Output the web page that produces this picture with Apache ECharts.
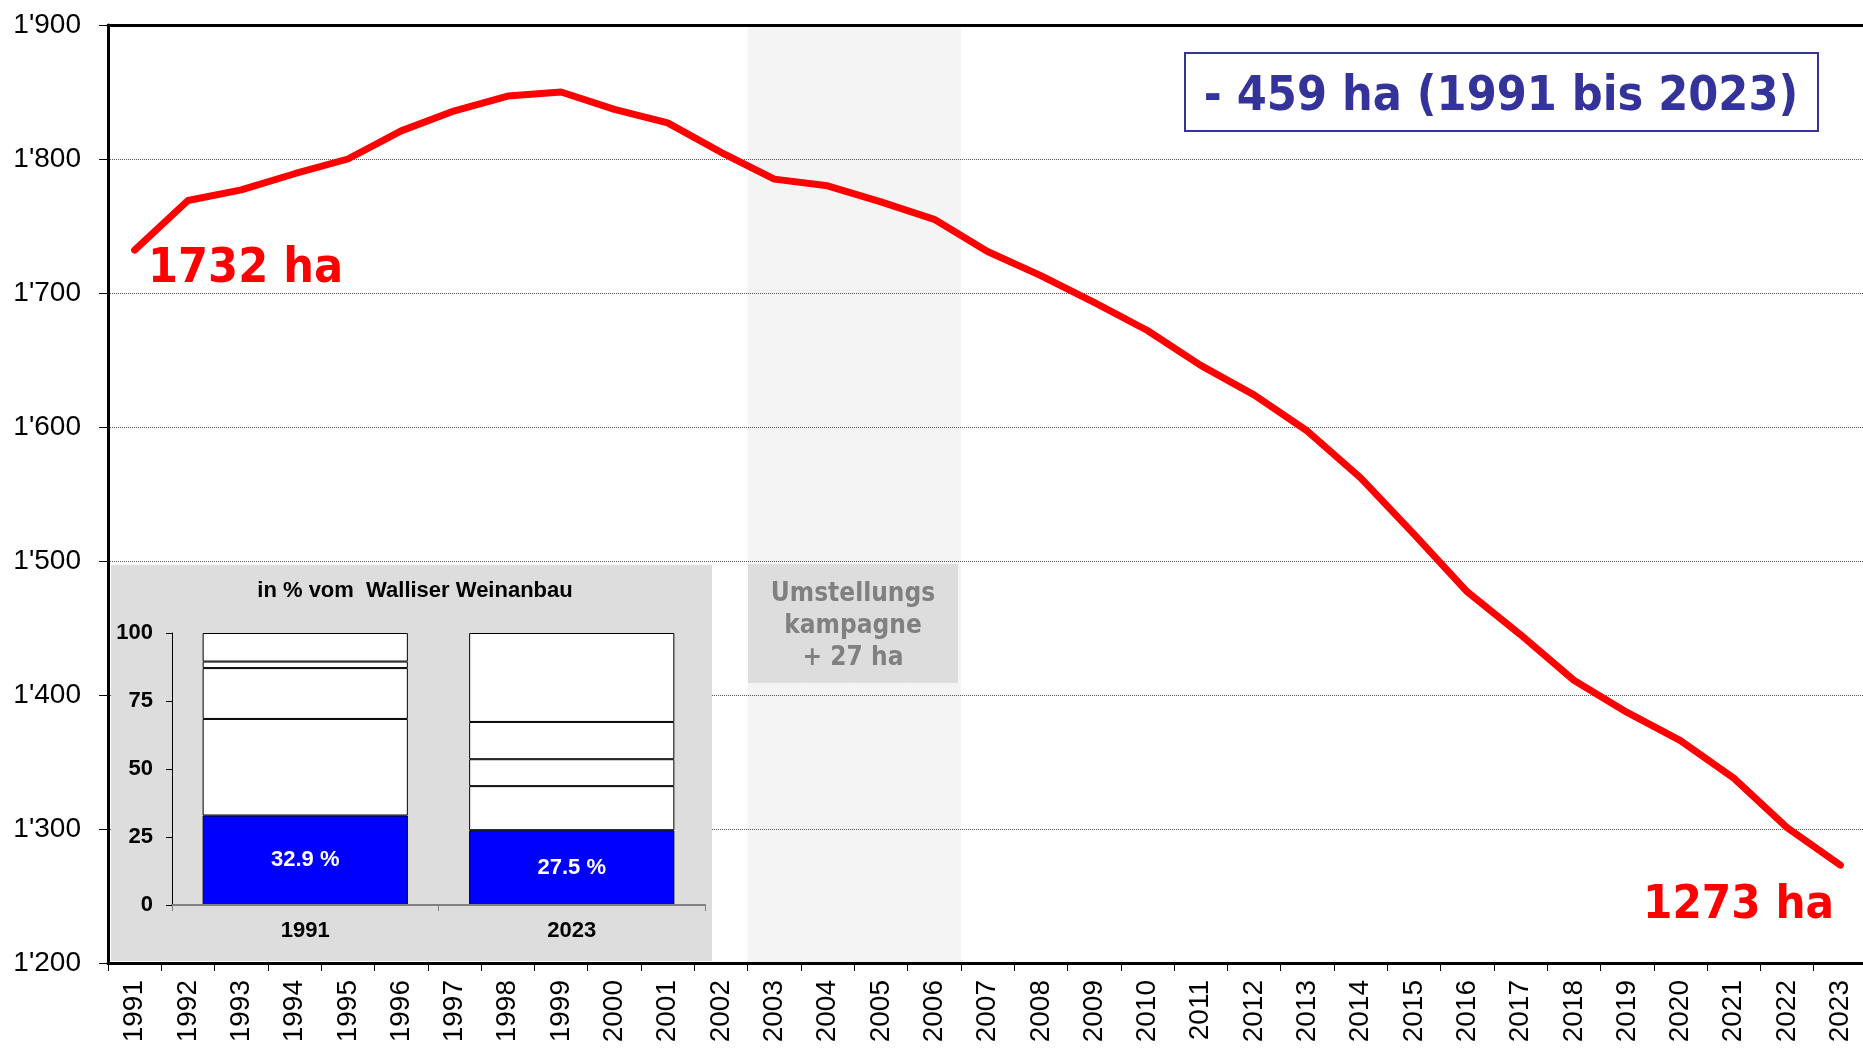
<!DOCTYPE html>
<html>
<head>
<meta charset="utf-8">
<script src="https://cdn.jsdelivr.net/npm/echarts@6/dist/echarts.min.js"></script>
<style>
	html, body { margin: 0; padding: 0; width: 100%; height: 100%; background: #fff; }
	#chartLineBox { width: 1863px; height: 1048px; }
</style>
</head>
<body>
<div id="chartLineBox"></div>
<script>
	// Rebfläche in ha
	var years = ['1991', '1992', '1993', '1994', '1995', '1996', '1997', '1998', '1999', '2000', '2001',
		'2002', '2003', '2004', '2005', '2006', '2007', '2008', '2009', '2010', '2011', '2012',
		'2013', '2014', '2015', '2016', '2017', '2018', '2019', '2020', '2021', '2022', '2023'];
	var areaHa = [1732, 1769, 1777, 1789, 1800, 1821, 1836, 1847, 1850, 1837, 1827,
		1805, 1785, 1780, 1768, 1755, 1731, 1713, 1693, 1672, 1646, 1624,
		1597, 1562, 1520, 1477, 1445, 1411, 1387, 1366, 1338, 1301, 1273];
	var campaignYears = ['2003', '2004', '2005', '2006'];
	var campaignGain = 27;

	// Kleines Diagramm: Anteil in % vom Walliser Weinanbau
	var insetYears = ['1991', '2023'];
	var insetShare = [32.9, 27.5];
	var insetSeg2 = [35.5, 16.2];
	var insetSeg3 = [18.7, 9.9];
	var insetSeg4 = [2.4, 13.7];
	var insetSeg5 = [10.5, 32.7];

	var arial = '"Liberation Sans", Arial, sans-serif';
	var tahoma = '"DejaVu Sans Condensed", "DejaVu Sans", sans-serif';
	var last = areaHa.length - 1;
	var yMin = 1200, yMax = 1900;

	// Band der Umstellungskampagne: volle Höhe in den Kampagnenjahren
	var campaignBand = years.map(function (y) {
		return campaignYears.indexOf(y) >= 0 ? yMax : '-';
	});

	function insetBar(name, data, color, withLabel) {
		return {
			name: name,
			type: 'bar',
			stack: 'anteil',
			xAxisIndex: 2,
			yAxisIndex: 1,
			data: data,
			z: 4,
			barCategoryGap: '23%',
			itemStyle: { color: color, borderColor: '#000', borderWidth: 1 },
			label: {
				show: withLabel,
				position: 'inside',
				color: '#fff',
				fontFamily: arial,
				fontWeight: 'bold',
				fontSize: 22,
				formatter: function (p) { return p.value + ' %'; }
			}
		};
	}

	var chart = echarts.init(document.getElementById('chartLineBox'));
	var option = {
		animation: false,
		grid: [
			{ left: 108, top: 25, width: 1759, height: 938, outerBoundsMode: 'none' },
			{ left: 172, top: 633, width: 533, height: 272, outerBoundsMode: 'none' }
		],
		xAxis: [
			{
				gridIndex: 0, type: 'category', data: years, boundaryGap: true,
				axisLine: { lineStyle: { color: '#000', width: 3 } },
				axisTick: { show: true, interval: 0, length: 8, lineStyle: { color: '#000', width: 1 } },
				axisLabel: { interval: 0, rotate: 90, margin: 17, fontSize: 28, color: '#000', fontFamily: arial },
				splitLine: { show: false }
			},
			{
				// obere Rahmenlinie
				gridIndex: 0, type: 'category', data: years, position: 'top',
				axisLine: { lineStyle: { color: '#000', width: 3 } },
				axisTick: { show: false }, axisLabel: { show: false }, splitLine: { show: false }
			},
			{
				gridIndex: 1, type: 'category', data: insetYears, z: 5,
				axisLine: { lineStyle: { color: '#808080', width: 2 } },
				axisTick: { show: true, length: 6, lineStyle: { color: '#808080', width: 1 } },
				axisLabel: { margin: 15, fontSize: 22, fontWeight: 'bold', color: '#000', fontFamily: arial },
				splitLine: { show: false }
			}
		],
		yAxis: [
			{
				gridIndex: 0, type: 'value', min: yMin, max: yMax, interval: 100,
				axisLine: { show: true, lineStyle: { color: '#000', width: 3 } },
				axisTick: { show: true, length: 9, lineStyle: { color: '#000', width: 1 } },
				axisLabel: {
					margin: 27, fontSize: 28, color: '#000', fontFamily: arial,
					formatter: function (v) { return Math.floor(v / 1000) + "'" + String(v % 1000).padStart(3, '0'); }
				},
				splitLine: { show: true, lineStyle: { type: 'dotted', color: '#555', width: 1 } }
			},
			{
				gridIndex: 1, type: 'value', min: 0, max: 100, interval: 25, z: 5,
				axisLine: { show: true, lineStyle: { color: '#000', width: 1 } },
				axisTick: { show: true, length: 6, lineStyle: { color: '#000', width: 1 } },
				axisLabel: { margin: 19, fontSize: 22, fontWeight: 'bold', color: '#000', fontFamily: arial },
				splitLine: { show: false }
			}
		],
		series: [
			{
				name: 'Umstellungskampagne',
				type: 'bar',
				xAxisIndex: 0,
				yAxisIndex: 0,
				data: campaignBand,
				barWidth: '100%',
				silent: true,
				z: 1,
				itemStyle: { color: 'rgba(0,0,0,0.045)' }
			},
			{
				name: 'Rebfläche',
				type: 'line',
				xAxisIndex: 0,
				yAxisIndex: 0,
				data: areaHa,
				symbol: 'none',
				z: 3,
				lineStyle: { color: '#ff0000', width: 7, cap: 'round', join: 'round' }
			},
			insetBar('Anteil', insetShare, '#0000ff', true),
			insetBar('Segment 2', insetSeg2, '#ffffff', false),
			insetBar('Segment 3', insetSeg3, '#ffffff', false),
			insetBar('Segment 4', insetSeg4, '#ffffff', false),
			insetBar('Segment 5', insetSeg5, '#ffffff', false)
		],
		graphic: [
			// Hintergrund kleines Diagramm
			{ type: 'rect', z: 2, shape: { x: 111, y: 565, width: 601, height: 396 }, style: { fill: '#dddddd' } },
			{ type: 'text', z: 6, x: 415, y: 591, style: { text: 'in % vom  Walliser Weinanbau', font: 'bold 22px ' + arial, fill: '#000', align: 'center', verticalAlign: 'middle' } },
			// Umstellungskampagne
			{ type: 'rect', z: 3, shape: { x: 748, y: 564, width: 210, height: 119 }, style: { fill: '#dddddd' } },
			{ type: 'text', z: 4, x: 853, y: 626, style: { text: 'Umstellungs\nkampagne\n+ ' + campaignGain + ' ha', font: 'bold 26px ' + tahoma, fill: '#808080', align: 'center', verticalAlign: 'middle', lineHeight: 32 } },
			// Differenz-Box
			{ type: 'rect', z: 5, shape: { x: 1185, y: 53, width: 633, height: 78 }, style: { fill: '#fff', stroke: '#333399', lineWidth: 2 } },
			{ type: 'text', z: 6, x: 1501, y: 98, style: { text: '- ' + (areaHa[0] - areaHa[last]) + ' ha (' + years[0] + ' bis ' + years[last] + ')', font: 'bold 48px ' + tahoma, fill: '#333399', align: 'center', verticalAlign: 'middle' } },
			// Start- und Endwert
			{ type: 'text', z: 6, x: 148, y: 270, style: { text: areaHa[0] + ' ha', font: 'bold 48px ' + tahoma, fill: '#ff0000', align: 'left', verticalAlign: 'middle' } },
			{ type: 'text', z: 6, x: 1643, y: 906, style: { text: areaHa[last] + ' ha', font: 'bold 47px ' + tahoma, fill: '#ff0000', align: 'left', verticalAlign: 'middle' } }
		]
	};
	chart.setOption(option);
</script>
</body>
</html>
